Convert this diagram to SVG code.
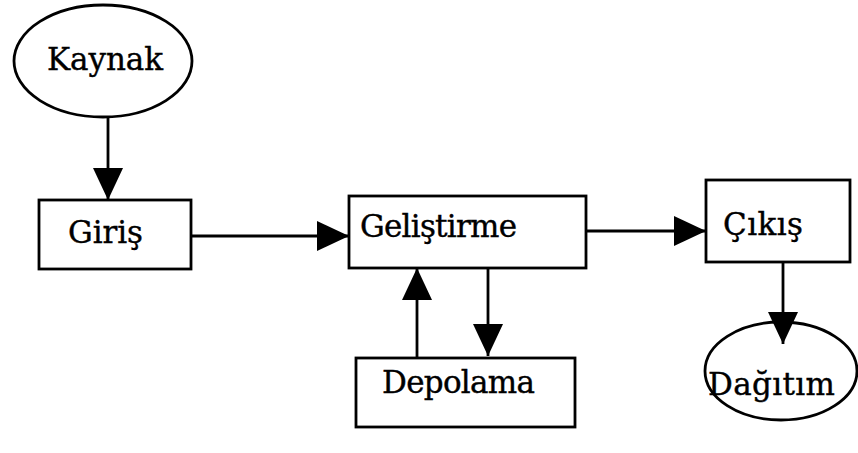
<svg xmlns="http://www.w3.org/2000/svg" width="858" height="453" viewBox="0 0 858 453">
  <style>
    .shape { fill: #fff; stroke: #000; stroke-width: 2.8; }
    .label { font-family: "DejaVu Serif", "Liberation Serif", serif; font-size: 31px; fill: #000; stroke: #000; stroke-width: 0.4; }
    .edge { stroke: #000; stroke-width: 2.8; fill: none; marker-end: url(#head); }
  </style>
  <defs>
    <marker id="head" markerUnits="userSpaceOnUse" markerWidth="32" markerHeight="30" viewBox="0 0 32 30" refX="32" refY="15" orient="auto">
      <path d="M0,0 L32,15 L0,30 Z" fill="#000"/>
    </marker>
  </defs>
  <rect width="858" height="453" fill="#fff"/>

  <g id="kaynak">
    <ellipse class="shape" cx="103" cy="61" rx="89" ry="56"/>
    <text class="label" x="47" y="70" textLength="116" lengthAdjust="spacing">Kaynak</text>
  </g>
  <g id="giris">
    <rect class="shape" x="39" y="200" width="152" height="69"/>
    <text class="label" x="68" y="243" textLength="75" lengthAdjust="spacing">Giriş</text>
  </g>
  <g id="gelistirme">
    <rect class="shape" x="349" y="196" width="237" height="72"/>
    <text class="label" x="360" y="237" textLength="157" lengthAdjust="spacing">Geliştirme</text>
  </g>
  <g id="depolama">
    <rect class="shape" x="356" y="358" width="219" height="69"/>
    <text class="label" x="382" y="393" textLength="153" lengthAdjust="spacing">Depolama</text>
  </g>
  <g id="cikis">
    <rect class="shape" x="706" y="180" width="144" height="82"/>
    <text class="label" x="723" y="235" textLength="80" lengthAdjust="spacing">Çıkış</text>
  </g>
  <g id="dagitim">
    <ellipse class="shape" cx="781" cy="371" rx="76" ry="49"/>
    <text class="label" x="708" y="395" textLength="127" lengthAdjust="spacing">Dağıtım</text>
  </g>

  <g id="connectors">
    <line class="edge" x1="108" y1="117" x2="108" y2="200"/>
    <line class="edge" x1="191" y1="236" x2="349" y2="236"/>
    <line class="edge" x1="586" y1="231" x2="706" y2="231"/>
    <line class="edge" x1="417" y1="358" x2="417" y2="268"/>
    <line class="edge" x1="488" y1="268" x2="488" y2="356"/>
    <line class="edge" x1="783" y1="262" x2="783" y2="344"/>
  </g>
</svg>
